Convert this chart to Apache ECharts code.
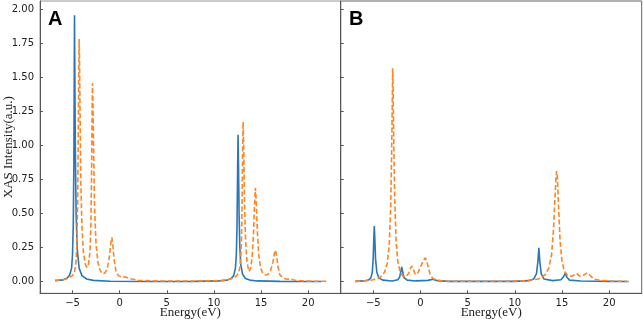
<!DOCTYPE html>
<html>
<head>
<meta charset="utf-8">
<script src="https://cdn.jsdelivr.net/npm/echarts@6/dist/echarts.min.js"></script>
<style>
  html, body { margin: 0; padding: 0; background: #fff; }
  #main { width: 643px; height: 324px; }
</style>
</head>
<body>
<div id="main"></div>
<script>
// panel A, blue (solid)
var aBlueX = [-6.85, -6.0, -5.6, -5.3, -5.1, -5.0, -4.92, -4.86, -4.82, -4.79, -4.75, -4.7, -4.62, -4.5, -4.3, -4.0, -3.5, -2.8, -1.0, 3.0, 8.0, 10.5, 11.4, 11.8, 12.1, 12.28, 12.38, 12.45, 12.51, 12.56, 12.61, 12.67, 12.74, 12.84, 13.04, 13.34, 13.8, 14.6, 17.0, 21.4];
var aBlueY = [0.008, 0.014, 0.025, 0.05, 0.1, 0.2, 0.42, 0.85, 1.45, 1.96, 1.5, 0.95, 0.5, 0.24, 0.1, 0.045, 0.02, 0.01, 0.004, 0.002, 0.003, 0.006, 0.012, 0.022, 0.045, 0.1, 0.2, 0.4, 0.8, 1.08, 0.85, 0.5, 0.27, 0.13, 0.055, 0.024, 0.012, 0.006, 0.003, 0.002];

// panel A, orange (dashed)
var aOrangeX = [-6.85, -6.0, -5.5, -5.0, -4.8, -4.65, -4.55, -4.45, -4.38, -4.33, -4.3, -4.26, -4.2, -4.12, -4.0, -3.85, -3.65, -3.48, -3.3, -3.15, -3.05, -2.97, -2.92, -2.88, -2.83, -2.76, -2.66, -2.5, -2.3, -2.05, -1.82, -1.55, -1.3, -1.1, -0.95, -0.83, -0.72, -0.6, -0.4, -0.15, 0.2, 0.55, 0.9, 1.3, 2.0, 4.0, 8.0, 10.5, 11.5, 12.2, 12.6, 12.8, 12.92, 12.99, 13.05, 13.1, 13.16, 13.24, 13.36, 13.52, 13.72, 13.9, 14.05, 14.2, 14.3, 14.4, 14.48, 14.6, 14.75, 14.95, 15.2, 15.45, 15.75, 16.0, 16.25, 16.42, 16.53, 16.65, 16.8, 17.0, 17.4, 17.8, 18.15, 18.5, 19.2, 20.5, 22.05];
var aOrangeY = [0.01, 0.015, 0.025, 0.045, 0.07, 0.13, 0.25, 0.6, 1.2, 1.6, 1.785, 1.65, 1.25, 0.75, 0.4, 0.22, 0.13, 0.105, 0.13, 0.22, 0.42, 0.85, 1.25, 1.46, 1.3, 0.95, 0.55, 0.27, 0.14, 0.08, 0.058, 0.065, 0.1, 0.18, 0.28, 0.326, 0.27, 0.17, 0.08, 0.045, 0.035, 0.037, 0.028, 0.02, 0.01, 0.005, 0.005, 0.008, 0.015, 0.03, 0.06, 0.12, 0.28, 0.6, 0.98, 1.176, 1.0, 0.6, 0.3, 0.14, 0.075, 0.1, 0.18, 0.35, 0.55, 0.69, 0.6, 0.38, 0.2, 0.1, 0.06, 0.05, 0.055, 0.08, 0.14, 0.21, 0.233, 0.19, 0.11, 0.05, 0.025, 0.018, 0.02, 0.013, 0.007, 0.004, 0.003];

// panel B, blue (solid)
var bBlueX = [-6.9, -6.0, -5.5, -5.25, -5.1, -5.0, -4.94, -4.89, -4.84, -4.76, -4.62, -4.4, -4.0, -3.0, -2.4, -2.2, -2.06, -1.98, -1.9, -1.75, -1.4, -0.5, 0.8, 1.32, 1.8, 3.0, 10.0, 11.5, 12.0, 12.3, 12.45, 12.55, 12.65, 12.8, 13.1, 14.0, 14.9, 15.2, 15.36, 15.5, 15.8, 17.0, 20.0, 21.9];
var bBlueY = [0.003, 0.006, 0.013, 0.03, 0.07, 0.18, 0.32, 0.41, 0.33, 0.17, 0.07, 0.028, 0.012, 0.006, 0.015, 0.035, 0.08, 0.11, 0.08, 0.03, 0.012, 0.006, 0.01, 0.018, 0.008, 0.003, 0.003, 0.008, 0.02, 0.06, 0.15, 0.25, 0.15, 0.06, 0.02, 0.008, 0.015, 0.04, 0.066, 0.035, 0.012, 0.005, 0.003, 0.002];

// panel B, orange (dashed)
var bOrangeX = [-6.9, -6.0, -5.0, -4.3, -3.8, -3.5, -3.3, -3.15, -3.05, -2.98, -2.94, -2.89, -2.82, -2.72, -2.58, -2.4, -2.15, -1.85, -1.5, -1.25, -1.05, -0.91, -0.75, -0.55, -0.3, -0.05, 0.3, 0.53, 0.75, 1.0, 1.3, 1.8, 3.0, 8.0, 11.0, 12.5, 13.2, 13.6, 13.9, 14.1, 14.25, 14.36, 14.44, 14.52, 14.64, 14.8, 15.0, 15.25, 15.6, 16.0, 16.3, 16.56, 16.9, 17.3, 17.7, 18.0, 18.4, 19.0, 20.5, 22.1];
var bOrangeY = [0.003, 0.006, 0.015, 0.03, 0.07, 0.14, 0.28, 0.55, 0.95, 1.35, 1.57, 1.4, 1.0, 0.6, 0.3, 0.15, 0.07, 0.04, 0.04, 0.06, 0.1, 0.115, 0.09, 0.055, 0.06, 0.1, 0.155, 0.176, 0.13, 0.06, 0.025, 0.01, 0.004, 0.003, 0.006, 0.02, 0.05, 0.1, 0.2, 0.38, 0.6, 0.76, 0.814, 0.76, 0.55, 0.3, 0.15, 0.08, 0.045, 0.04, 0.05, 0.062, 0.04, 0.05, 0.066, 0.045, 0.02, 0.01, 0.004, 0.002];

var xTicks = [-5, 0, 5, 10, 15, 20];
var yTicks = [0, 0.25, 0.5, 0.75, 1.0, 1.25, 1.5, 1.75, 2.0];
var panelNames = ['A', 'B'];

function zip(xs, ys) {
  return xs.map(function (x, i) { return [x, ys[i]]; });
}

var chart = echarts.init(document.getElementById('main'), null, { renderer: 'canvas' });

var axisColor = '#555';
var tickFont = { color: '#222', fontSize: 10, fontFamily: 'DejaVu Sans' };

function xAxisFor(idx) {
  return {
    type: 'value',
    gridIndex: idx,
    min: -8.45,
    max: 23.45,
    name: 'Energy(eV)',
    nameLocation: 'middle',
    nameGap: 13,
    nameMoveOverlap: false,
    nameTextStyle: { fontFamily: 'Liberation Serif', fontSize: 13, color: '#222' },
    splitLine: { show: false },
    axisLine: { onZero: false, lineStyle: { color: axisColor, width: 1 } },
    axisTick: { inside: true, length: 3, customValues: xTicks, lineStyle: { color: axisColor } },
    axisLabel: Object.assign({
      margin: 5,
      customValues: xTicks,
      formatter: function (v) { return v < 0 ? '\u2212' + Math.abs(v) : String(v); }
    }, tickFont)
  };
}

function yAxisFor(idx) {
  var ax = {
    type: 'value',
    gridIndex: idx,
    min: -0.085,
    max: 2.064,
    splitLine: { show: false },
    axisLine: { show: true, onZero: false, lineStyle: { color: axisColor, width: 1 } },
    axisTick: { inside: true, length: 3, customValues: yTicks, lineStyle: { color: axisColor } },
    axisLabel: Object.assign({
      show: idx === 0,
      margin: 6,
      customValues: yTicks,
      formatter: function (v) { return v.toFixed(2); }
    }, tickFont)
  };
  if (idx === 0) {
    ax.name = 'XAS Intensity(a.u.)';
    ax.nameLocation = 'middle';
    ax.nameGap = 25;
    ax.nameMoveOverlap = false;
    ax.nameTextStyle = { fontFamily: 'Liberation Serif', fontSize: 13, color: '#222' };
  }
  return ax;
}

function lineSeries(idx, data, color, dashed) {
  return {
    type: 'line',
    xAxisIndex: idx,
    yAxisIndex: idx,
    data: data,
    showSymbol: false,
    symbol: 'none',
    lineStyle: { color: color, width: 1.6, type: dashed ? [5, 2.5] : 'solid' },
    z: dashed ? 3 : 2
  };
}

var option = {
  animation: false,
  backgroundColor: '#fff',
  grid: [
    { left: 40, top: 1, width: 300.7, height: 292.3, outerBoundsMode: 'none', containLabel: false, show: true, borderColor: '#999', borderWidth: 1 },
    { left: 340.7, top: 1, width: 301, height: 292.3, outerBoundsMode: 'none', containLabel: false, show: true, borderColor: '#666', borderWidth: 1 }
  ],
  xAxis: [xAxisFor(0), xAxisFor(1)],
  yAxis: [yAxisFor(0), yAxisFor(1)],
  series: [
    lineSeries(0, zip(aBlueX, aBlueY), '#2a76b9', false),
    lineSeries(0, zip(aOrangeX, aOrangeY), '#ff8526', true),
    lineSeries(1, zip(bBlueX, bBlueY), '#2a76b9', false),
    lineSeries(1, zip(bOrangeX, bOrangeY), '#ff8526', true)
  ],
  graphic: [
    { type: 'text', left: 48, top: 9, style: { text: panelNames[0], font: 'bold 20px "Liberation Sans"', fill: '#000' } },
    { type: 'text', left: 349, top: 9, style: { text: panelNames[1], font: 'bold 20px "Liberation Sans"', fill: '#000' } }
  ]
};

chart.setOption(option);
</script>
</body>
</html>
